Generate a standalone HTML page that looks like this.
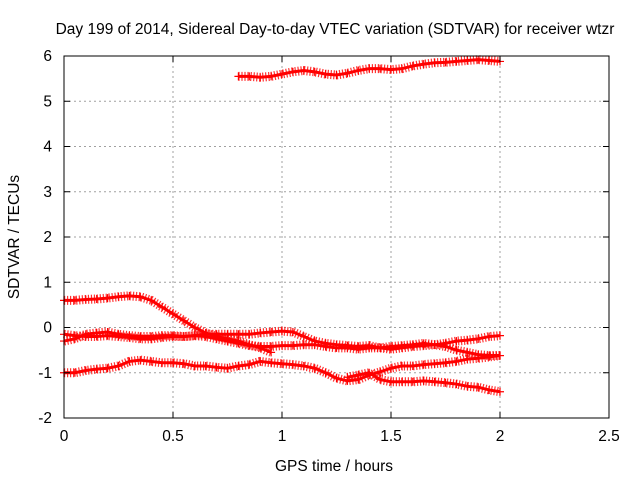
<!DOCTYPE html>
<html><head><meta charset="utf-8"><style>
body{margin:0;background:#fff;}
svg text{font-family:"Liberation Sans",sans-serif;font-size:15.5px;fill:#000;}
</style></head><body>
<svg id="chart" width="640" height="480" xmlns="http://www.w3.org/2000/svg">
<rect width="640" height="480" fill="#fff"/>
<text x="335" y="34" text-anchor="middle">Day 199 of 2014, Sidereal Day-to-day VTEC variation (SDTVAR) for receiver wtzr</text>
<text x="334" y="471" text-anchor="middle">GPS time / hours</text>
<text transform="translate(19,237) rotate(-90)" text-anchor="middle">SDTVAR / TECUs</text>
<g id="grid"></g><g id="series"></g><g id="axes"></g>
</svg>
<script>
const xTicks=[0,0.5,1,1.5,2,2.5];
const yTicks=[-2,-1,0,1,2,3,4,5,6];
const xTickLabels=["0","0.5","1","1.5","2","2.5"];
const yTickLabels=["-2","-1","0","1","2","3","4","5","6"];
const seriesA=[5.55,5.55,5.53,5.55,5.6,5.65,5.68,5.65,5.6,5.58,5.62,5.68,5.72,5.72,5.7,5.72,5.78,5.82,5.85,5.86,5.88,5.9,5.92,5.9,5.88];
const seriesAStart=0.8;
const seriesB=[0.6,0.6,0.62,0.63,0.65,0.68,0.7,0.68,0.6,0.45,0.3,0.15,0.0,-0.12,-0.2,-0.25,-0.3,-0.38,-0.45,-0.55];
const seriesBStart=0;
const seriesC=[-0.3,-0.25,-0.15,-0.12,-0.1,-0.15,-0.18,-0.2,-0.2,-0.18,-0.18,-0.2,-0.18,-0.15,-0.15,-0.15,-0.15,-0.15,-0.12,-0.1,-0.08,-0.1,-0.2,-0.3,-0.35,-0.38,-0.4,-0.42,-0.4,-0.45,-0.48,-0.45,-0.42,-0.4,-0.38,-0.35,-0.3,-0.28,-0.25,-0.2,-0.18];
const seriesCStart=0;
const seriesD=[-0.15,-0.18,-0.2,-0.2,-0.18,-0.2,-0.22,-0.25,-0.25,-0.22,-0.2,-0.2,-0.18,-0.2,-0.25,-0.3,-0.35,-0.4,-0.42,-0.42,-0.4,-0.4,-0.38,-0.38,-0.42,-0.45,-0.45,-0.48,-0.45,-0.45,-0.42,-0.4,-0.38,-0.35,-0.38,-0.42,-0.5,-0.55,-0.6,-0.62,-0.62];
const seriesDStart=0;
const seriesE=[-1.0,-1.0,-0.95,-0.92,-0.9,-0.85,-0.75,-0.72,-0.75,-0.78,-0.78,-0.8,-0.85,-0.85,-0.88,-0.9,-0.85,-0.82,-0.75,-0.78,-0.8,-0.82,-0.85,-0.9,-1.0,-1.12,-1.18,-1.15,-1.05,-0.98,-0.9,-0.85,-0.85,-0.82,-0.8,-0.78,-0.75,-0.7,-0.68,-0.65,-0.62];
const seriesEStart=0;
const seriesF=[-1.1,-1.05,-1.0,-1.15,-1.2,-1.2,-1.2,-1.18,-1.2,-1.22,-1.25,-1.3,-1.32,-1.38,-1.42];
const seriesFStart=1.3;
const step=0.05;

const L=64,R=609,T=56,B=418;
const xs=v=>L+(v-0)/(2.5-0)*(R-L);
const ys=v=>B-(v+2)/8*(B-T);
const NS="http://www.w3.org/2000/svg";
function mk(tag,attrs,parent){const e=document.createElementNS(NS,tag);for(const k in attrs)e.setAttribute(k,attrs[k]);parent.appendChild(e);return e;}
const grid=document.getElementById('grid'),axes=document.getElementById('axes'),sg=document.getElementById('series');
xTicks.forEach((t,i)=>{
  const x=xs(t);
  if(t>0&&t<2.5){const g=mk('line',{x1:x,x2:x,y1:T,y2:B,stroke:'#a0a0a0','stroke-dasharray':'2,3'},grid);
  
  }
  mk('line',{x1:x,x2:x,y1:B,y2:B-6,stroke:'#000'},axes);
  mk('line',{x1:x,x2:x,y1:T,y2:T+6,stroke:'#000'},axes);
  const tx=mk('text',{x:x,y:B+23,'text-anchor':'middle'},axes);tx.textContent=xTickLabels[i];
  
  
});
yTicks.forEach((t,i)=>{
  const y=ys(t);
  if(t>-2&&t<6){const g=mk('line',{x1:L,x2:R,y1:y,y2:y,stroke:'#a0a0a0','stroke-dasharray':'2,3'},grid);
  
  }
  mk('line',{x1:L,x2:L+6,y1:y,y2:y,stroke:'#000'},axes);
  mk('line',{x1:R,x2:R-6,y1:y,y2:y,stroke:'#000'},axes);
  const tx=mk('text',{x:L-12,y:y+5,'text-anchor':'end'},axes);tx.textContent=yTickLabels[i];
  
  
});
const fr=mk('rect',{x:L,y:T,width:R-L,height:B-T,fill:'none',stroke:'#000'},axes);


const all=[[seriesA,seriesAStart,'series-a'],[seriesB,seriesBStart,'series-b'],[seriesC,seriesCStart,'series-c'],[seriesD,seriesDStart,'series-d'],[seriesE,seriesEStart,'series-e'],[seriesF,seriesFStart,'series-f']];
all.forEach(([vals,start,name])=>{
  const g=mk('g',{},sg);
  
  
  const pts=vals.map((v,i)=>[xs(start+i*step),ys(v)]);
  mk('polyline',{points:pts.map(p=>p.join(',')).join(' '),fill:'none',stroke:'#ff0000','stroke-width':3},g);
  mk('polyline',{points:pts.map(p=>p.join(',')).join(' '),fill:'none',stroke:'#ff0000','stroke-width':9,'stroke-dasharray':'1.2,1.8',opacity:0.8},g);
  pts.forEach(p=>{
    const c=mk('path',{d:`M${p[0]-4},${p[1]}h8M${p[0]},${p[1]-4}v8`,stroke:'#ff0000','stroke-width':1.2},g);
    
    
  });
});
</script>
</body></html>
